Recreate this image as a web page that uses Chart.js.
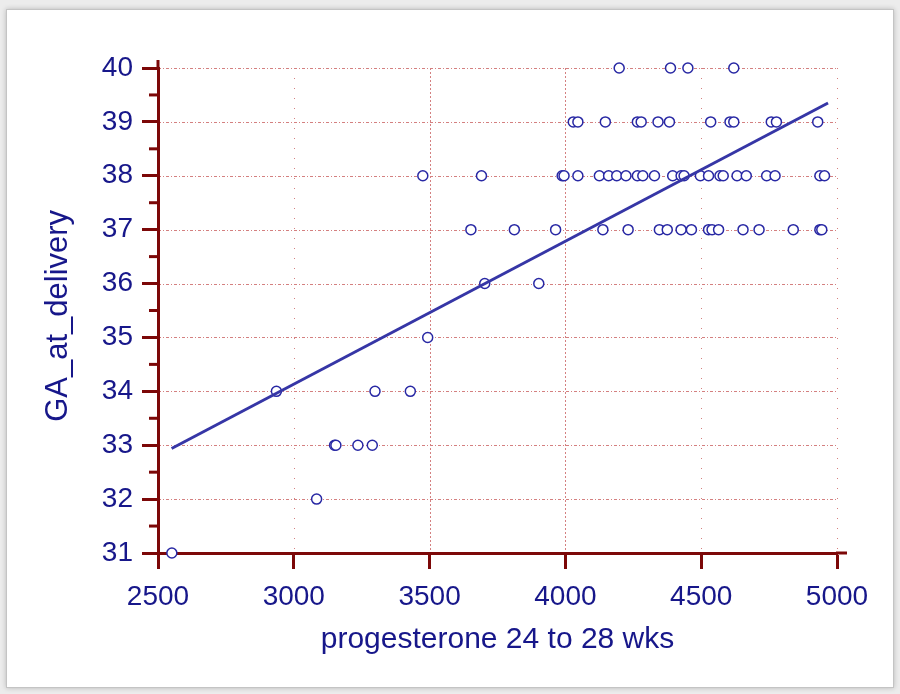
<!DOCTYPE html>
<html><head><meta charset="utf-8">
<script src="https://cdn.jsdelivr.net/npm/chart.js@4/dist/chart.umd.min.js"></script>
<style>
html,body{margin:0;padding:0;width:900px;height:694px;overflow:hidden;background:#ececec;}
#panel{position:absolute;left:6px;top:9px;width:886px;height:677px;background:#fff;border:1px solid #c4c4c4;box-shadow:0 0 5px rgba(0,0,0,0.22);}
#wrap{position:absolute;left:0;top:0;width:900px;height:694px;}
</style></head><body>
<div id="panel"></div>
<div id="wrap"><canvas id="c" width="900" height="694"></canvas></div>
<script>
// progesterone values (x) grouped by GA_at_delivery (y)
const ga31 = [2551];
const ga32 = [3084];
const ga33 = [3150, 3155, 3236, 3289];
const ga34 = [2936, 3299, 3429];
const ga35 = [3493];
const ga36 = [3703, 3902];
const ga37 = [3652, 3812, 3964, 4138, 4231, 4346, 4375, 4426, 4464, 4527, 4540, 4564, 4654, 4713, 4839, 4937, 4944];
const ga38 = [3475, 3691, 3988, 3995, 4046, 4125, 4159, 4189, 4223, 4265, 4285, 4328, 4395, 4426, 4437, 4497, 4527, 4569, 4581, 4632, 4666, 4741, 4772, 4937, 4954];
const ga39 = [4029, 4046, 4147, 4265, 4279, 4341, 4383, 4535, 4606, 4620, 4758, 4777, 4929];
const ga40 = [4198, 4387, 4451, 4620];
const gaLevels = [31, 32, 33, 34, 35, 36, 37, 38, 39, 40];
const gaGroups = [ga31, ga32, ga33, ga34, ga35, ga36, ga37, ga38, ga39, ga40];
// regression line end points
const fitX = [2550, 4967];
const fitY = [32.94, 39.35];
const xTicks = [2500, 3000, 3500, 4000, 4500, 5000];
const yTicks = [31, 32, 33, 34, 35, 36, 37, 38, 39, 40];
const xTitle = 'progesterone 24 to 28 wks';
const yTitle = 'GA_at_delivery';

const points = [];
gaGroups.forEach((g, i) => g.forEach(v => points.push({x: v, y: gaLevels[i]})));
const fitLine = fitX.map((v, i) => ({x: v, y: fitY[i]}));

const textColor = '#17178a';
const axisColor = '#7c0808';
const gridColor = 'rgb(212,128,128)';
const fontFam = '"Liberation Sans", Arial, sans-serif';

const extras = {
  id: 'extras',
  beforeDraw(chart) {
    const {ctx, scales: {x, y}, chartArea: a} = chart;
    ctx.save();
    ctx.strokeStyle = gridColor;
    ctx.lineWidth = 1;
    // horizontal grid lines
    ctx.setLineDash([3, 2, 1, 2]);
    yTicks.slice(1).forEach(v => {
      const py = Math.round(y.getPixelForValue(v)) + 0.5;
      ctx.beginPath(); ctx.moveTo(a.left, py); ctx.lineTo(a.right, py); ctx.stroke();
    });
    // vertical grid lines
    xTicks.slice(1).forEach(v => {
      const px = Math.round(x.getPixelForValue(v)) + 0.5;
      ctx.setLineDash((v === 3500 || v === 4000) ? [2, 2] : [1, 9]);
      ctx.beginPath(); ctx.moveTo(px, a.top); ctx.lineTo(px, a.bottom); ctx.stroke();
    });
    ctx.restore();
  },
  beforeDatasetsDraw(chart) {
    const {ctx, scales: {y}, chartArea: a} = chart;
    ctx.save();
    ctx.strokeStyle = axisColor;
    ctx.lineWidth = 3;
    for (let i = 0; i < yTicks.length - 1; i++) {
      const py = y.getPixelForValue(yTicks[i] + 0.5);
      ctx.beginPath(); ctx.moveTo(a.left - 9, py); ctx.lineTo(a.left, py); ctx.stroke();
    }
    ctx.beginPath(); ctx.moveTo(a.left, a.top + 1); ctx.lineTo(a.left, a.top - 8); ctx.stroke();
    ctx.beginPath(); ctx.moveTo(a.right - 1, a.bottom); ctx.lineTo(a.right + 10, a.bottom); ctx.stroke();
    // y axis title
    ctx.fillStyle = textColor;
    ctx.font = '31px ' + fontFam;
    ctx.textAlign = 'center';
    ctx.textBaseline = 'alphabetic';
    ctx.translate(67, y.getPixelForValue(35.4));
    ctx.rotate(-Math.PI / 2);
    ctx.fillText(yTitle, 0, 0);
    ctx.restore();
  }
};

new Chart(document.getElementById('c'), {
  data: {
    datasets: [
      {type: 'line', data: fitLine, borderColor: '#3636a6', borderWidth: 3, pointRadius: 0, fill: false, order: 0, clip: false},
      {type: 'scatter', data: points, pointStyle: 'circle', pointRadius: 5, borderColor: '#2828a4', backgroundColor: '#ffffff', pointBorderWidth: 1.5, order: 1, clip: false}
    ]
  },
  options: {
    responsive: false,
    animation: false,
    devicePixelRatio: 1,
    layout: {padding: {left: 0, top: 68, right: 63, bottom: 0}},
    plugins: {legend: {display: false}, tooltip: {enabled: false}},
    scales: {
      x: {
        type: 'linear', position: 'bottom', min: 2500, max: 5000,
        afterBuildTicks: (s) => { s.ticks = xTicks.map(v => ({value: v})); },
        afterFit: (s) => { s.height = 141; },
        ticks: {color: textColor, font: {family: fontFam, size: 28}, padding: 11, maxRotation: 0,
          callback: (v) => String(v)},
        grid: {drawOnChartArea: false, tickLength: 16, tickWidth: 3, tickColor: axisColor},
        border: {display: true, color: axisColor, width: 3},
        title: {display: true, text: xTitle, color: textColor,
          font: {family: fontFam, size: 30}, padding: {top: 0, bottom: 36}}
      },
      y: {
        type: 'linear', position: 'left', min: 31, max: 40,
        afterBuildTicks: (s) => { s.ticks = yTicks.map(v => ({value: v})); },
        afterFit: (s) => { s.width = 158; },
        ticks: {color: textColor, font: {family: fontFam, size: 28}, padding: 9,
          callback: (v) => String(v)},
        grid: {drawOnChartArea: false, tickLength: 16, tickWidth: 3, tickColor: axisColor},
        border: {display: true, color: axisColor, width: 3},
        title: {display: false}
      }
    }
  },
  plugins: [extras]
});
</script>
</body></html>
